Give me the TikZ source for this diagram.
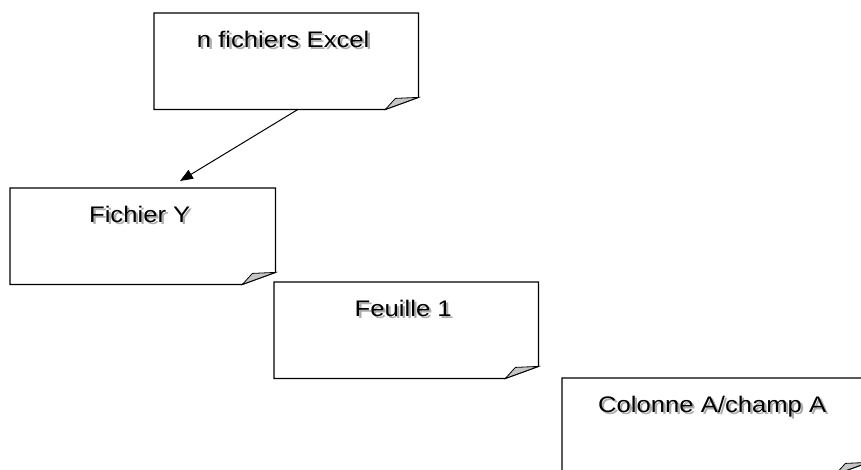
\documentclass[tikz,border=0pt]{standalone}
\usepackage{fontspec}
\setmainfont{Liberation Sans}
\usetikzlibrary{arrows.meta,calc}
\tikzset{
  boxarea/.style={rectangle, draw=none, inner sep=0pt, minimum width=#1, minimum height=96pt, anchor=north west},
  outline/.style={draw=black, line width=1.2pt, fill=white, line join=miter},
  foldpart/.style={draw=black, line width=0.8pt, fill=gray!45},
  labeltxt/.style={font=\fontsize{22.5}{27}\selectfont, inner sep=0pt, anchor=base, xscale=1.14},
  shadowtxt/.style={labeltxt, text=gray!65},
  link/.style={line width=1pt, -{Triangle[length=13pt,width=10pt]}}
}
\newcommand{\notebox}[5]{%
  % #1 name, #2 left, #3 top, #4 width, #5 text
  \node[boxarea=#4pt] (#1) at (#2,#3) {};
  \path[outline] (#1.north west) -- (#1.north east) -- ($(#1.south east)+(0,-12)$)
     -- ($(#1.south east)+(-33,0)$) -- (#1.south west) -- cycle;
  \path[foldpart] ($(#1.south east)+(-33,0)$) -- ($(#1.south east)+(-23,-11)$)
     .. controls ($(#1.south east)+(-12,-12)$) .. ($(#1.south east)+(0,-12)$) -- cycle;
  \node[shadowtxt] at ($(#1.north)+(-0.7,36.5)$) {#5};
  \node[labeltxt] (#1t) at ($(#1.north)+(-3,34.5)$) {#5};
}
\begin{document}
\begin{tikzpicture}[x=1pt,y=-1pt]
  \useasboundingbox (0,0) rectangle (861,469);
  \clip (0,0) rectangle (861,469);
  \notebox{b1}{154}{13}{264}{n fichiers Excel}
  \notebox{b2}{10}{188}{265}{Fichier Y}
  \notebox{b3}{274}{282}{264}{Feuille 1}
  \notebox{b4}{562}{378}{306}{Colonne A/champ A}
  \coordinate (tip) at ($(b2.north west)+(170,-7)$);
  \draw[link] ($(b1.south west)+(144,0)$) -- (tip);
\end{tikzpicture}
\end{document}
